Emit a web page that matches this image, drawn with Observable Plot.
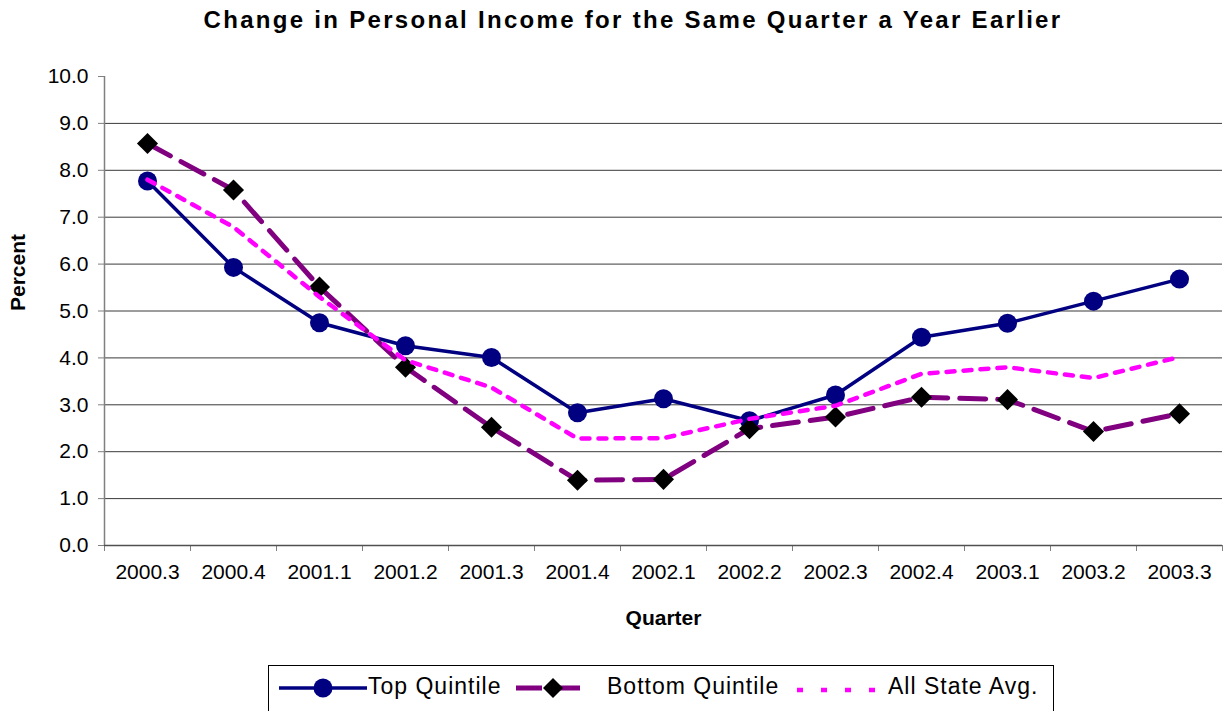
<!DOCTYPE html>
<html><head><meta charset="utf-8">
<script src="https://cdn.jsdelivr.net/npm/d3@7"></script>
<script src="https://cdn.jsdelivr.net/npm/@observablehq/plot@0.6"></script>
<style>
body{margin:0;background:#fff;overflow:hidden;font-family:"Liberation Sans",Arial,sans-serif;}
#wrap{position:relative;width:1224px;height:711px;overflow:hidden;background:#fff;}
#title{position:absolute;left:0;top:6px;width:1266px;text-align:center;font-weight:bold;font-size:24px;letter-spacing:2.3px;color:#000;}
#chart{position:absolute;left:0;top:0;}
#legend{position:absolute;left:268px;top:665px;width:786px;height:60px;border:1px solid #000;box-sizing:border-box;background:#fff;}
.li{position:absolute;top:4px;font-size:23px;letter-spacing:1px;line-height:32px;color:#000;white-space:nowrap;}
.ls{position:absolute;top:4px;}
</style></head>
<body><div id="wrap"><div id="title">Change in Personal Income for the Same Quarter a Year Earlier</div><div id="chart"></div><div id="legend"></div></div>
<script>
const quarters = ["2000.3","2000.4","2001.1","2001.2","2001.3","2001.4","2002.1","2002.2","2002.3","2002.4","2003.1","2003.2","2003.3"];
const topQuintile = [7.77, 5.93, 4.75, 4.26, 4.01, 2.83, 3.13, 2.66, 3.21, 4.44, 4.74, 5.21, 5.68];
const bottomQuintile = [8.57, 7.58, 5.51, 3.80, 2.52, 1.39, 1.41, 2.49, 2.74, 3.16, 3.11, 2.43, 2.81];
const stateAvg = [7.80, 6.79, 5.30, 3.95, 3.37, 2.28, 2.29, 2.70, 2.98, 3.66, 3.80, 3.57, 4.02];
const yTicks = [0,1,2,3,4,5,6,7,8,9,10];
const gridValues = [1,2,3,4,5,6,7,8,9];
const seriesNames = ["Top Quintile","Bottom Quintile","All State Avg."];

const rows = quarters.map((q, i) => ({i, q, top: topQuintile[i], bottom: bottomQuintile[i], avg: stateAvg[i]}));
const boundaries = d3.range(quarters.length + 1).map(k => k - 0.5);

const chart = Plot.plot({
  width: 1224,
  height: 650,
  marginTop: 76,
  marginBottom: 105,
  marginLeft: 104,
  marginRight: 2,
  style: {fontFamily: "Liberation Sans, Arial, sans-serif", fontSize: "21px", color: "#000", background: "transparent"},
  x: {type: "linear", domain: [-0.5, quarters.length - 0.5], axis: null},
  y: {domain: [0, 10], axis: null},
  marks: [
    Plot.gridY(gridValues, {stroke: "#3a3a3a", strokeOpacity: 1, strokeWidth: 1}),
    Plot.axisY({ticks: yTicks, tickFormat: d => d.toFixed(1), tickSize: 6, tickPadding: 10, fontSize: 21, label: null, stroke: "#808080"}),
    Plot.axisX({ticks: boundaries, tickSize: 6, tickFormat: () => "", label: null, stroke: "#808080"}),
    Plot.axisX({ticks: d3.range(quarters.length), tickSize: 0, tickPadding: 19, tickFormat: i => quarters[i], fontSize: 21, label: null}),
    Plot.ruleX([-0.5], {stroke: "#808080", strokeWidth: 1.5}),
    Plot.ruleY([0], {stroke: "#505050", strokeWidth: 1.5}),
    Plot.text(["Quarter"], {frameAnchor: "bottom", dy: 79, text: d => d, fontWeight: "bold", fontSize: 21}),
    Plot.text(["Percent"], {frameAnchor: "left", dx: -86, rotate: -90, text: d => d, fontWeight: "bold", fontSize: 21}),
    Plot.line(rows, {x: "i", y: "top", stroke: "#000080", strokeWidth: 3.5}),
    Plot.dot(rows, {x: "i", y: "top", r: 9.5, fill: "#000080", stroke: "none"}),
    Plot.line(rows, {x: "i", y: "bottom", stroke: "#800080", strokeWidth: 5, strokeDasharray: "26,12"}),
    Plot.dot(rows, {x: "i", y: "bottom", symbol: "diamond2", r: 9.5, fill: "#000", stroke: "none"}),
    Plot.line(rows, {x: "i", y: "avg", stroke: "#ff00ff", strokeWidth: 4.5, strokeDasharray: "8,9"})
  ]
});
document.getElementById("chart").appendChild(chart);

// Legend
const legend = document.getElementById("legend");
const ns = "http://www.w3.org/2000/svg";
function sample(left, width, build) {
  const s = document.createElementNS(ns, "svg");
  s.setAttribute("width", width); s.setAttribute("height", 32);
  s.setAttribute("class", "ls"); s.style.left = left + "px";
  build(s, width);
  legend.appendChild(s);
}
function el(parent, tag, attrs) {
  const e = document.createElementNS(ns, tag);
  for (const k in attrs) e.setAttribute(k, attrs[k]);
  parent.appendChild(e); return e;
}
function label(left, text) {
  const d = document.createElement("div");
  d.className = "li"; d.style.left = left + "px"; d.textContent = text;
  legend.appendChild(d);
}
sample(10, 88, (s, w) => {
  el(s, "line", {x1: 0, x2: w, y1: 18, y2: 18, stroke: "#000080", "stroke-width": 3.5});
  el(s, "circle", {cx: w / 2, cy: 18, r: 9.5, fill: "#000080"});
});
label(99, seriesNames[0]);
sample(247, 74, (s, w) => {
  el(s, "line", {x1: 0, x2: w, y1: 18, y2: 18, stroke: "#800080", "stroke-width": 5, "stroke-dasharray": "26,12"});
  el(s, "path", {d: `M${w/2},8L${w/2+10},18L${w/2},28L${w/2-10},18Z`, fill: "#000"});
});
label(338, seriesNames[1]);
sample(528, 80, (s, w) => {
  el(s, "line", {x1: 0, x2: w, y1: 20, y2: 20, stroke: "#ff00ff", "stroke-width": 4.5, "stroke-dasharray": "6,18"});
});
label(619, seriesNames[2]);
</script>
</body></html>
